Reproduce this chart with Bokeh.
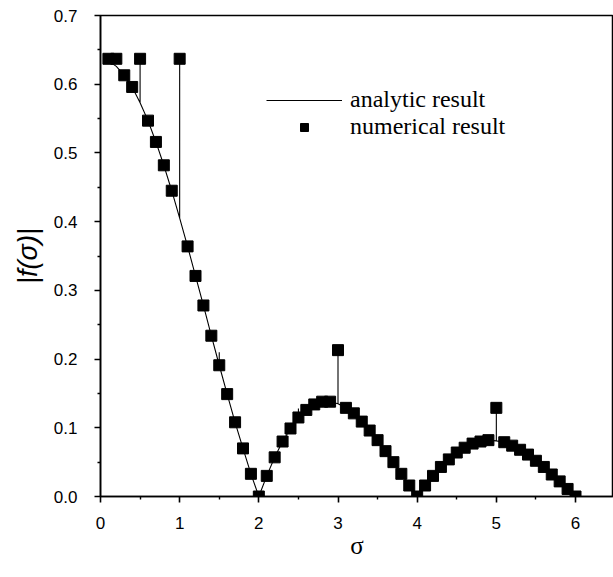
from bokeh.plotting import figure
from bokeh.models import Range1d, Legend, LegendItem, FixedTicker, CustomJSTickFormatter
from bokeh.embed import file_html
from bokeh.resources import INLINE

# --- data ---
sigma = [0.1, 0.2, 0.3, 0.4, 0.5, 0.6, 0.7, 0.8, 0.9, 1.0,
         1.1, 1.2, 1.3, 1.4, 1.5, 1.6, 1.7, 1.8, 1.9, 2.0,
         2.1, 2.2, 2.3, 2.4, 2.5, 2.6, 2.7, 2.8, 2.9, 3.0,
         3.1, 3.2, 3.3, 3.4, 3.5, 3.6, 3.7, 3.8, 3.9, 4.0,
         4.1, 4.2, 4.3, 4.4, 4.5, 4.6, 4.7, 4.8, 4.9, 5.0,
         5.1, 5.2, 5.3, 5.4, 5.5, 5.6, 5.7, 5.8, 5.9, 6.0]

f_analytic = [0.634, 0.626, 0.613, 0.596, 0.573, 0.547, 0.516, 0.482, 0.445, 0.405,
              0.364, 0.321, 0.278, 0.234, 0.191, 0.149, 0.108, 0.070, 0.033, 0.000,
              0.030, 0.057, 0.080, 0.099, 0.115, 0.126, 0.134, 0.138, 0.138, 0.135,
              0.129, 0.121, 0.109, 0.096, 0.082, 0.066, 0.050, 0.033, 0.016, 0.000,
              0.016, 0.030, 0.043, 0.054, 0.064, 0.071, 0.077, 0.080, 0.082, 0.081,
              0.079, 0.074, 0.068, 0.061, 0.052, 0.043, 0.032, 0.022, 0.011, 0.000]

f_numerical = [0.637, 0.637, 0.613, 0.596, 0.637, 0.547, 0.516, 0.482, 0.445, 0.637,
               0.364, 0.321, 0.278, 0.234, 0.191, 0.149, 0.108, 0.070, 0.033, 0.000,
               0.030, 0.057, 0.080, 0.099, 0.115, 0.126, 0.134, 0.138, 0.138, 0.213,
               0.129, 0.121, 0.109, 0.096, 0.082, 0.066, 0.050, 0.033, 0.016, 0.000,
               0.016, 0.030, 0.043, 0.054, 0.064, 0.071, 0.077, 0.080, 0.082, 0.129,
               0.079, 0.074, 0.068, 0.061, 0.052, 0.043, 0.032, 0.022, 0.011, 0.000]

# narrow spikes of the analytic curve
spike_sigma = [0.5, 1.0, 1.5, 2.5, 3.0, 5.0]
spike_top = [0.637, 0.637, 0.210, 0.128, 0.213, 0.129]

x_ticks = [0, 1, 2, 3, 4, 5, 6]
y_ticks = [0.0, 0.1, 0.2, 0.3, 0.4, 0.5, 0.6, 0.7]

# build the analytic line (with vertical spikes)
line_x, line_y = [], []
for s, v in zip(sigma, f_analytic):
    line_x.append(s)
    line_y.append(v)
    if s in spike_sigma:
        top = spike_top[spike_sigma.index(s)]
        line_x += [s, s]
        line_y += [top, v]

p = figure(width=613, height=577, output_backend="svg", toolbar_location=None,
           x_range=Range1d(0, 6.48), y_range=Range1d(0, 0.7),
           min_border_left=100, min_border_right=0, min_border_top=15, min_border_bottom=81)

p.xgrid.visible = False
p.ygrid.visible = False
p.outline_line_color = "black"
p.outline_line_width = 1.5
p.background_fill_color = "white"
p.border_fill_color = "white"

p.xaxis.ticker = FixedTicker(ticks=x_ticks, minor_ticks=[t + 0.5 for t in x_ticks])
p.yaxis.ticker = FixedTicker(ticks=y_ticks, minor_ticks=[round(t + 0.05, 2) for t in y_ticks[:-1]])
p.yaxis.formatter = CustomJSTickFormatter(code="return tick.toFixed(1);")

for ax in (p.xaxis[0], p.yaxis[0]):
    ax.axis_line_width = 1.6
    ax.axis_line_color = "black"
    ax.major_tick_line_width = 1.6
    ax.minor_tick_line_width = 1.4
    ax.major_tick_in = 0
    ax.major_tick_out = 6
    ax.minor_tick_in = 0
    ax.minor_tick_out = 3
    ax.major_label_text_font = "Liberation Sans"
    ax.major_label_text_font_size = "17px"
    ax.major_label_text_color = "black"
    ax.axis_label_text_color = "black"

p.yaxis.major_label_standoff = 17
p.xaxis.major_label_standoff = 14

p.xaxis.axis_label = "σ"
p.xaxis.axis_label_text_font = "Liberation Serif"
p.xaxis.axis_label_text_font_style = "normal"
p.xaxis.axis_label_text_font_size = "25px"
p.xaxis.axis_label_standoff = 0

p.yaxis.axis_label = "|f(σ)|"
p.yaxis.axis_label_text_font = "Liberation Sans"
p.yaxis.axis_label_text_font_style = "italic"
p.yaxis.axis_label_text_font_size = "27px"
p.yaxis.axis_label_standoff = 8

line_r = p.line(line_x, line_y, line_color="black", line_width=1.1)
sq_r = p.scatter(sigma, f_numerical, marker="square", size=11, color="black")

legend_style = dict(glyph_width=76, glyph_height=20, label_height=20, padding=0, margin=0,
                    label_standoff=8, label_text_font="Liberation Serif",
                    label_text_font_size="24px", label_text_color="black",
                    border_line_color=None, background_fill_alpha=0)
legend1 = Legend(items=[LegendItem(label="analytic result", renderers=[line_r])],
                 location=(166, 383), **legend_style)
legend2 = Legend(items=[LegendItem(label="numerical result", renderers=[sq_r])],
                 location=(166, 356), **legend_style)
p.add_layout(legend1)
p.add_layout(legend2)

open("out.html", "w").write(file_html(p, INLINE))
